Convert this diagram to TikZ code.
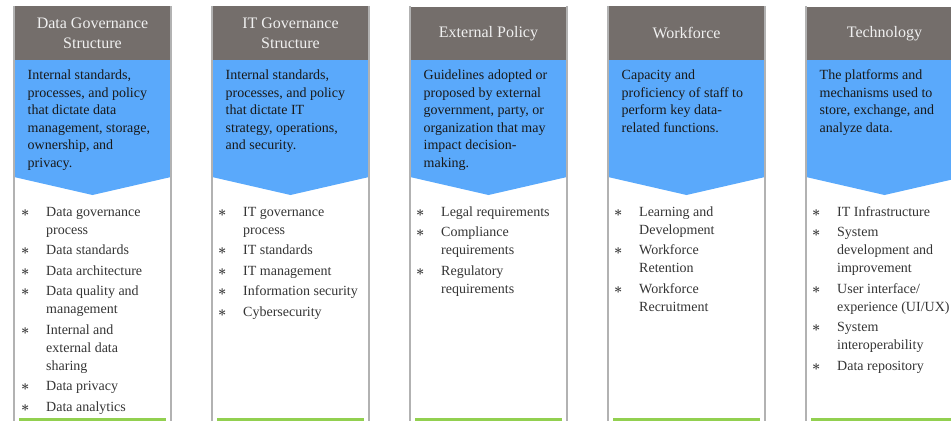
\documentclass[tikz,border=0pt]{standalone}
\usepackage{fontspec}
\setmainfont{Liberation Serif}
\usetikzlibrary{positioning}

\definecolor{headgray}{RGB}{116,110,107}
\definecolor{descblue}{RGB}{90,169,251}
\definecolor{rulegray}{RGB}{178,178,178}
\definecolor{footgreen}{RGB}{146,208,80}
\definecolor{itemgray}{RGB}{52,52,52}
\definecolor{bulgray}{RGB}{60,60,60}

\tikzset{
  head/.style={fill=headgray, text=white!94!black, minimum width=157pt, minimum height=54pt,
    inner sep=0pt, align=center, font=\fontsize{16}{20}\selectfont},
  desc/.style={anchor=north west, inner sep=0pt, align=left, text=black!90,
    font=\fontsize{14}{17.6}\selectfont},
  items/.style={anchor=north west, inner sep=0pt, text=itemgray,
    font=\fontsize{14}{18}\selectfont},
  side/.style={rulegray, line width=1.8pt},
  foot/.style={footgreen, line width=3pt}
}

\newcommand{\bul}{\makebox[25pt][l]{\color{bulgray}$\boldsymbol{\ast}$}}
\usepackage{amsmath}

\begin{document}
\begin{tikzpicture}[x=1pt, y=-1pt]

    % Fix the page to the size of the reference
    \useasboundingbox (0,0) rectangle (951,421);

    % Column 1: data governance
    \node[head] (head1) at (92.5,33) {Data Governance\\Structure};
    \fill[descblue] (14,60) -- (171,60) -- (171,177) -- (92.5,195) -- (14,177) -- cycle;
    \draw[side] (14,6) -- (14,421);
    \draw[side] (171,6) -- (171,421);
    \draw[foot] (19,419.5) -- (166,419.5);
    \node[desc] (desc1) at (27.5,69.5) {Internal standards,\\processes, and policy\\that dictate data\\management, storage,\\ownership, and\\privacy.};
    \node[items] (list1) at (21,203.5) {\begin{tabular}{@{}l@{}l@{}}
        \bul & Data governance\\ & process\\[2.5pt]
        \bul & Data standards\\[2.5pt]
        \bul & Data architecture\\[2.5pt]
        \bul & Data quality and\\ & management\\[2.5pt]
        \bul & Internal and\\ & external data\\ & sharing\\[2.5pt]
        \bul & Data privacy\\[2.5pt]
        \bul & Data analytics
      \end{tabular}};

    % Column 2: IT governance
    \node[head] (head2) at (290.5,33) {IT Governance\\Structure};
    \fill[descblue] (212,60) -- (369,60) -- (369,177) -- (290.5,195) -- (212,177) -- cycle;
    \draw[side] (212,6) -- (212,421);
    \draw[side] (369,6) -- (369,421);
    \draw[foot] (217,419.5) -- (364,419.5);
    \node[desc] (desc2) at (225.5,69.5) {Internal standards,\\processes, and policy\\that dictate IT\\strategy, operations,\\and security.};
    \node[items] (list2) at (218,203.5) {\begin{tabular}{@{}l@{}l@{}}
        \bul & IT governance\\ & process\\[2.5pt]
        \bul & IT standards\\[2.5pt]
        \bul & IT management\\[2.5pt]
        \bul & Information security\\[2.5pt]
        \bul & Cybersecurity
      \end{tabular}};

    % Column 3: external policy
    \node[head] (head3) at (488.5,34) {External Policy};
    \fill[descblue] (410,60) -- (567,60) -- (567,177) -- (488.5,195) -- (410,177) -- cycle;
    \draw[side] (410,6) -- (410,421);
    \draw[side] (567,6) -- (567,421);
    \draw[foot] (415,419.5) -- (562,419.5);
    \node[desc] (desc3) at (423.5,69.5) {Guidelines adopted or\\proposed by external\\government, party, or\\organization that may\\impact decision-\\making.};
    \node[items] (list3) at (416,203.5) {\begin{tabular}{@{}l@{}l@{}}
        \bul & Legal requirements\\[2.5pt]
        \bul & Compliance\\ & requirements\\[2.5pt]
        \bul & Regulatory\\ & requirements
      \end{tabular}};

    % Column 4: workforce
    \node[head] (head4) at (686.5,33) {Workforce};
    \fill[descblue] (608,60) -- (765,60) -- (765,177) -- (686.5,195) -- (608,177) -- cycle;
    \draw[side] (608,6) -- (608,421);
    \draw[side] (765,6) -- (765,421);
    \draw[foot] (613,419.5) -- (760,419.5);
    \node[desc] (desc4) at (621.5,69.5) {Capacity and\\proficiency of staff to\\perform key data-\\related functions.};
    \node[items] (list4) at (614,203.5) {\begin{tabular}{@{}l@{}l@{}}
        \bul & Learning and\\ & Development\\[2.5pt]
        \bul & Workforce\\ & Retention\\[2.5pt]
        \bul & Workforce\\ & Recruitment
      \end{tabular}};

    % Column 5: technology, cut off by the right edge
    \node[head] (head5) at (884.5,34) {Technology};
    \fill[descblue] (806,60) -- (963,60) -- (963,177) -- (884.5,195) -- (806,177) -- cycle;
    \draw[side] (806,6) -- (806,421);
    \draw[foot] (811,419.5) -- (958,419.5);
    \node[desc] (desc5) at (819.5,69.5) {The platforms and\\mechanisms used to\\store, exchange, and\\analyze data.};
    \node[items] (list5) at (812,203.5) {\begin{tabular}{@{}l@{}l@{}}
        \bul & IT Infrastructure\\[2.5pt]
        \bul & System\\ & development and\\ & improvement\\[2.5pt]
        \bul & User interface/\\ & experience (UI/UX)\\[2.5pt]
        \bul & System\\ & interoperability\\[2.5pt]
        \bul & Data repository
      \end{tabular}};

\end{tikzpicture}
\end{document}
